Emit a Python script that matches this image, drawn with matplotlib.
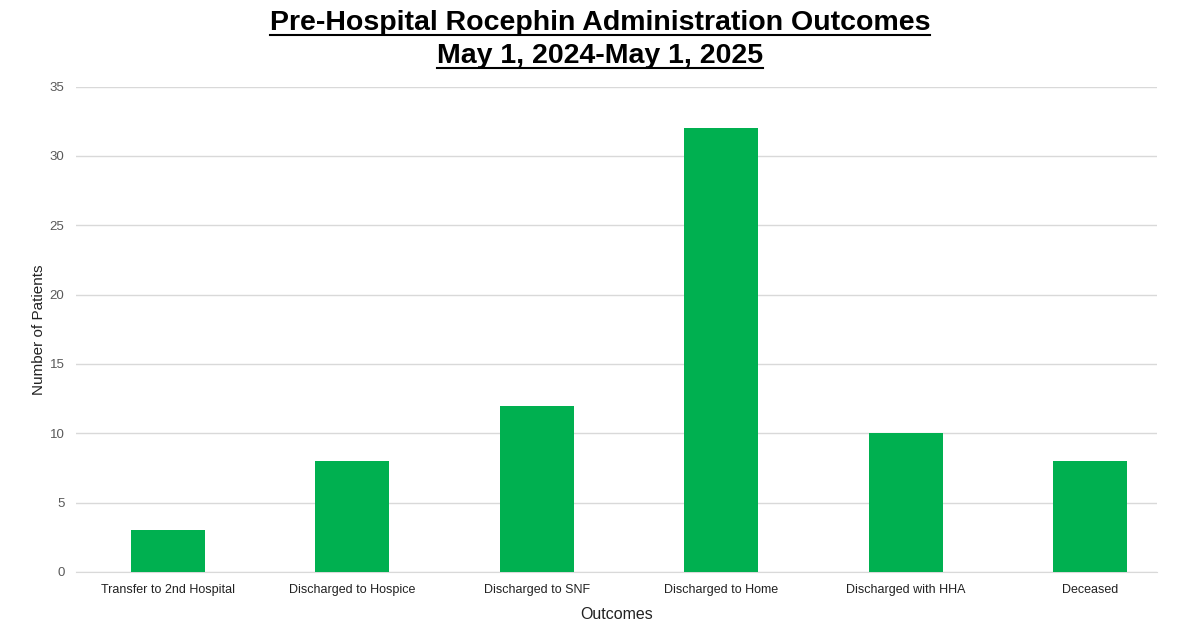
import matplotlib
matplotlib.use("Agg")
import matplotlib.pyplot as plt
from matplotlib.lines import Line2D

categories = ["Transfer to 2nd Hospital", "Discharged to Hospice", "Discharged to SNF",
              "Discharged to Home", "Discharged with HHA", "Deceased"]
patients = [3, 8, 12, 32, 10, 8]
y_ticks = [0, 5, 10, 15, 20, 25, 30, 35]
title_lines = ["Pre-Hospital Rocephin Administration Outcomes", "May 1, 2024-May 1, 2025"]

plt.rcParams["font.family"] = ["Liberation Sans", "DejaVu Sans"]

fig = plt.figure(figsize=(12, 6.23), dpi=100)
ax = fig.add_axes([0.063, 0.082, 0.901, 0.779])

x = list(range(len(categories)))
ax.bar(x, patients, width=0.4, color="#00B050", zorder=3)

ax.set_ylim(0, 35)
ax.set_xlim(-0.5, 5.36)
ax.set_yticks(y_ticks)
ax.set_xticks(x)
ax.set_xticklabels(categories, fontsize=9, color="#222222")
ax.tick_params(axis="y", labelsize=9.5, labelcolor="#595959", length=0, pad=8)
ax.tick_params(axis="x", length=0, pad=9)
ax.grid(axis="y", color="#D9D9D9", linewidth=1, zorder=0)
for side in ["top", "right", "left"]:
    ax.spines[side].set_visible(False)
ax.spines["bottom"].set_color("#D9D9D9")

ax.set_ylabel("Number of Patients", fontsize=11, color="#222222")
ax.set_xlabel("Outcomes", fontsize=11.5, color="#222222")
ax.yaxis.set_label_coords(-0.034, 0.5)
ax.xaxis.set_label_coords(0.5, -0.087)
ax.xaxis.label.set_va("center")
ax.yaxis.label.set_va("center")

# underlined two-line title
texts = []
for i, line in enumerate(title_lines):
    t = fig.text(0.5, 0.984 - i * 0.053, line, ha="center", va="top", fontsize=20.5,
                 fontweight="bold", color="black")
    texts.append(t)

fig.canvas.draw()
renderer = fig.canvas.get_renderer()
inv = fig.transFigure.inverted()
for t in texts:
    bb = t.get_window_extent(renderer)
    (x0, y0), (x1, y1) = inv.transform([(bb.x0, bb.y0), (bb.x1, bb.y1)])
    fig.add_artist(Line2D([x0, x1], [y0 + 0.001, y0 + 0.001], transform=fig.transFigure,
                          color="black", linewidth=1.5))

fig.savefig("out.png", dpi=100)
